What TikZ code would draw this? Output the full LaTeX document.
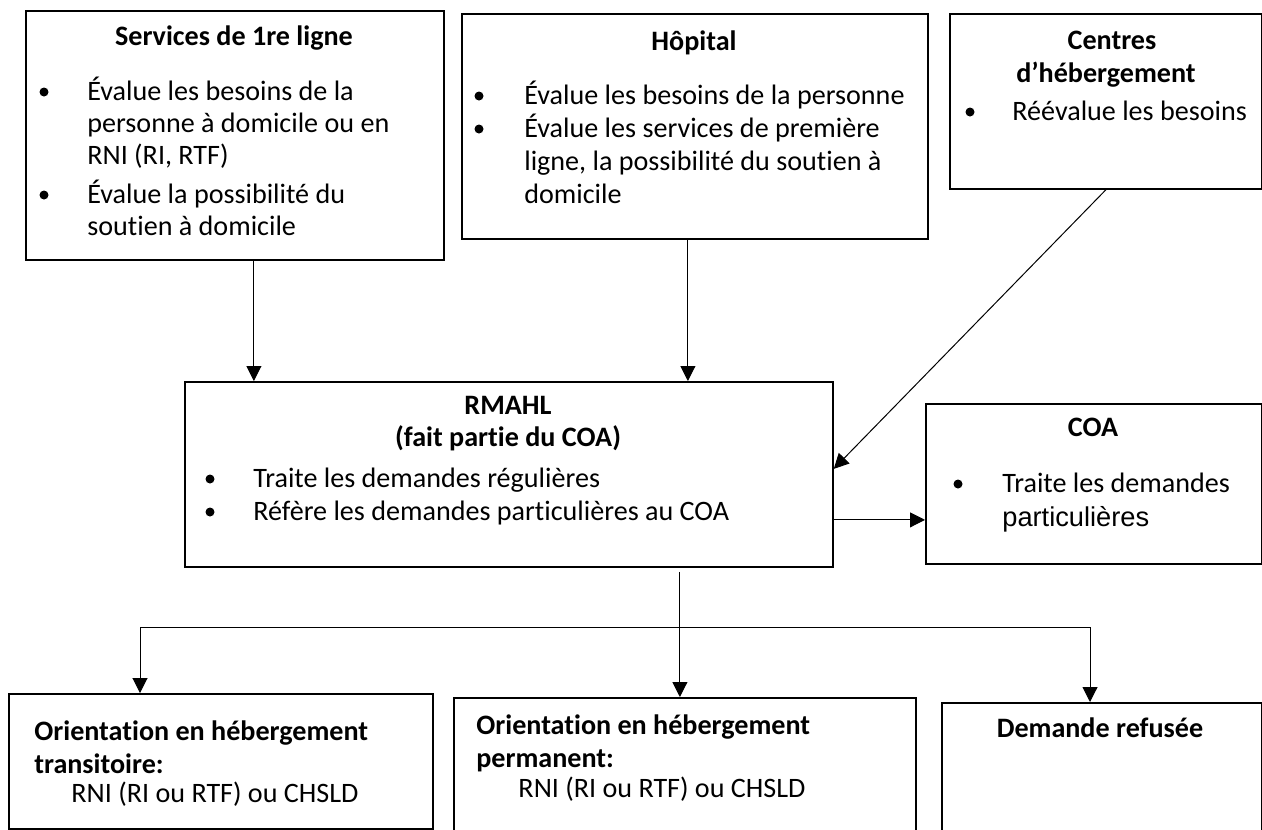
\documentclass[tikz,border=0pt]{standalone}
\usepackage{fontspec}
\setmainfont{Carlito}[Ligatures=NoCommon]
\newfontfamily\arialfont{Liberation Sans}
\usepackage{tikz}
\usetikzlibrary{arrows.meta}
\tikzset{
    boite/.style={draw, line width=0.35mm, anchor=north west, inner sep=0pt},
    fleche/.style={line width=0.2mm, -{Triangle[length=3mm,width=3mm]}},
    titre/.style={anchor=base, inner sep=0pt, font=\fontsize{16}{19}\selectfont\bfseries},
    texte/.style={anchor=base west, inner sep=0pt, font=\fontsize{16}{19}\selectfont},
    puce/.style={circle, fill, inner sep=0pt, minimum size=1.8mm}
}
\newcommand{\boite}[5] {
	\node[boite, minimum width={(#4-#2)*0.2mm}, minimum height={(#5-#3)*0.2mm}] (#1) at (#2,#3) {};
}
\newcommand{\titre}[4] {
	\node[titre] (#1) at (#2,#3) {#4};
}
\newcommand{\ligne}[4] {
	\node[texte] (#1) at (#2,#3) {#4};
}
\newcommand{\puce}[3] {
	\node[puce] (#1) at (#2,#3-8) {};
}

\begin{document}
\begin{tikzpicture}[x=0.2mm, y=-0.2mm]
		\useasboundingbox (0,0) rectangle (1262,829);

		% Boites du haut
		\boite{services}{25}{10}{443}{259}
		\titre{services-titre}{234}{45}{Services de 1re ligne}
		\puce{services-p1}{44}{100}
		\ligne{services-1}{87}{100}{Évalue les besoins de la}
		\ligne{services-2}{87}{132}{personne à domicile ou en}
		\ligne{services-3}{87}{164}{RNI (RI, RTF)}
		\puce{services-p2}{44}{203}
		\ligne{services-4}{87}{203}{Évalue la possibilité du}
		\ligne{services-5}{87}{235}{soutien à domicile}

		\boite{hopital}{461}{13}{927}{238}
		\titre{hopital-titre}{694}{50}{Hôpital}
		\puce{hopital-p1}{479}{104}
		\ligne{hopital-1}{524}{104}{Évalue les besoins de la personne}
		\puce{hopital-p2}{479}{137}
		\ligne{hopital-2}{524}{137}{Évalue les services de première}
		\ligne{hopital-3}{524}{170}{ligne, la possibilité du soutien à}
		\ligne{hopital-4}{524}{203}{domicile}

		\boite{centres}{949}{13}{1261}{188}
		\titre{centres-titre}{1112}{49}{Centres}
		\ligne{centres-titre2}{1016}{82}{\bfseries d’hébergement}
		\puce{centres-p1}{970}{120}
		\ligne{centres-1}{1012}{120}{Réévalue les besoins}

		% Boites du milieu
		\boite{rmahl}{184}{381}{832}{566}
		\titre{rmahl-titre}{508}{414}{RMAHL}
		\titre{rmahl-titre2}{508}{446}{(fait partie du COA)}
		\puce{rmahl-p1}{210}{487}
		\ligne{rmahl-1}{253}{487}{Traite les demandes régulières}
		\puce{rmahl-p2}{210}{520}
		\ligne{rmahl-2}{253}{520}{Réfère les demandes particulières au COA}

		\boite{coa}{925}{403}{1261}{563}
		\titre{coa-titre}{1093}{436}{COA}
		\puce{coa-p1}{958}{492}
		\ligne{coa-1}{1002}{492}{Traite les demandes}
		\ligne{coa-2}{1002}{526}{\arialfont\fontsize{15.5}{19}\selectfont particulières}

		% Boites du bas
		\boite{transitoire}{8}{693}{432}{828}
		\ligne{transitoire-titre}{34}{740}{\bfseries Orientation en hébergement}
		\ligne{transitoire-titre2}{34}{773}{\bfseries transitoire:}
		\titre{transitoire-1}{215}{802}{\mdseries RNI (RI ou RTF) ou CHSLD}

		\boite{permanent}{453}{697}{915}{832}
		\ligne{permanent-titre}{476}{734}{\bfseries Orientation en hébergement}
		\ligne{permanent-titre2}{476}{767}{\bfseries permanent:}
		\titre{permanent-1}{662}{797}{\mdseries RNI (RI ou RTF) ou CHSLD}

		\boite{refusee}{941}{702}{1261}{832}
		\titre{refusee-titre}{1100}{737}{Demande refusée}

		% Fleches
		\coordinate (services-depart) at ([xshift=3.8mm]services.south);
		\draw[fleche] (services-depart) -- (services-depart |- rmahl.north);
		\coordinate (hopital-depart) at ([xshift=-1.4mm]hopital.south);
		\draw[fleche] (hopital-depart) -- (hopital-depart |- rmahl.north);
		\draw[fleche] (centres.south) -- ([yshift=1.1mm]rmahl.east);
		\coordinate (coa-depart) at ([yshift=-9.1mm]rmahl.east);
		\draw[fleche] (coa-depart) -- (coa-depart -| coa.west);

		\coordinate (tronc) at ([xshift=34.2mm,yshift=-0.8mm]rmahl.south);
		\coordinate (branche-g) at (140,627);
		\coordinate (branche-d) at (1090,627);
		\draw[line width=0.2mm] (branche-g) -- (branche-d);
		\draw[fleche] (tronc) -- (tronc |- permanent.north);
		\draw[fleche] (branche-g) -- (branche-g |- transitoire.north);
		\draw[fleche] (branche-d) -- (branche-d |- refusee.north);

	\end{tikzpicture}
\end{document}
